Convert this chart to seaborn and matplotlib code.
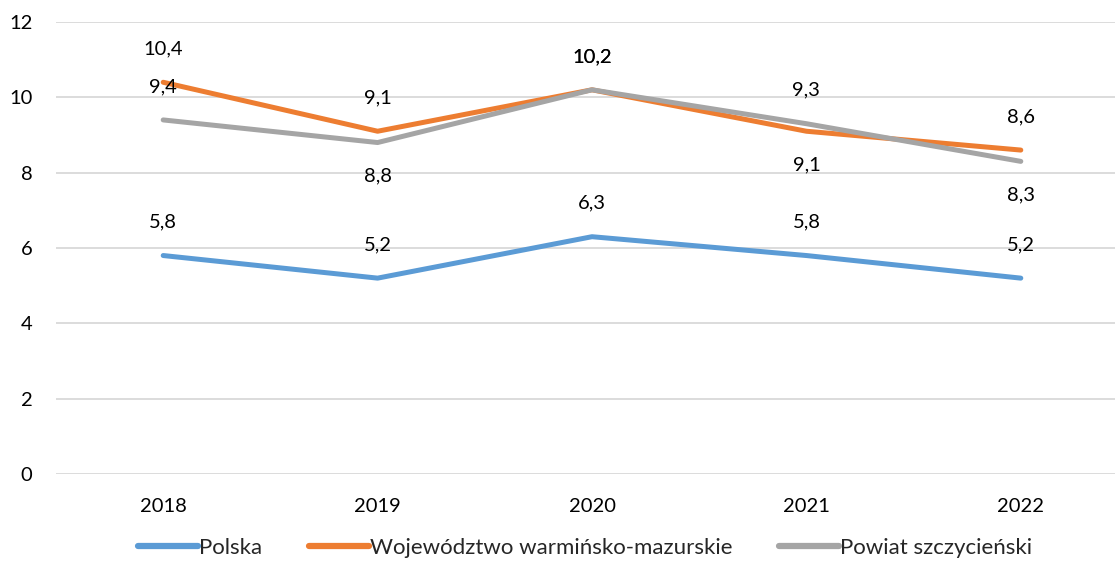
import numpy as np
import matplotlib.pyplot as plt
import seaborn as sns
import pandas as pd

years = ["2018", "2019", "2020", "2021", "2022"]
polska = [5.8, 5.2, 6.3, 5.8, 5.2]
wojewodztwo = [10.4, 9.1, 10.2, 9.1, 8.6]
powiat = [9.4, 8.8, 10.2, 9.3, 8.3]
series_names = ["Polska", "Województwo warmińsko-mazurskie", "Powiat szczycieński"]

# label position: 1 = above, -1 = below
pos_polska = [1, 1, 1, 1, 1]
pos_woj = [1, 1, 1, -1, 1]
pos_pow = [1, -1, 1, 1, -1]

colors = ["#5B9BD5", "#ED7D31", "#A5A5A5"]

df = pd.DataFrame({
    "rok": years * 3,
    "x": list(range(len(years))) * 3,
    "wartosc": polska + wojewodztwo + powiat,
    "seria": [series_names[0]] * 5 + [series_names[1]] * 5 + [series_names[2]] * 5,
})

sns.set_style("white")
plt.rcParams['font.family'] = ['Lato', 'DejaVu Sans']

fig = plt.figure(figsize=(11.15, 5.7), dpi=100)
ax = fig.add_axes([56 / 1115, 1 - 474 / 570, (1128 - 56) / 1115, (474 - 22) / 570])

sns.lineplot(data=df, x="x", y="wartosc", hue="seria", palette=colors,
             linewidth=3.6, ax=ax, legend=True, solid_capstyle="round")

for vals, poss in [(polska, pos_polska), (wojewodztwo, pos_woj), (powiat, pos_pow)]:
    for i, (v, p) in enumerate(zip(vals, poss)):
        ax.annotate(f"{v:.1f}".replace(".", ","), (i, v), xytext=(0, 24 * p),
                    textcoords="offset points", ha="center", va="center",
                    fontsize=14.5, color="#000000")

ax.set_xlim(-0.5, 4.5)
ax.set_ylim(0, 12)
ax.set_yticks(range(0, 13, 2))
ax.set_xticks(range(len(years)))
ax.set_xticklabels(years)
ax.grid(axis="y", color="#D9D9D9", linewidth=1.3)
ax.set_axisbelow(True)
for s in ax.spines.values():
    s.set_visible(False)
ax.tick_params(axis="both", length=0, labelsize=14.5, colors="#000000")
ax.tick_params(axis="y", pad=17)
ax.tick_params(axis="x", pad=17)
ax.set_xlabel("")
ax.set_ylabel("")

handles, labels = ax.get_legend_handles_labels()
for h in handles:
    h.set_linewidth(4.5)
ax.legend(handles, labels, loc="center", bbox_to_anchor=(585 / 1115, 1 - 548 / 570),
          bbox_transform=fig.transFigure, ncol=3, frameon=False, fontsize=16,
          handlelength=2.7, handletextpad=0.05, columnspacing=2.1)

fig.savefig("out.png", dpi=100)
